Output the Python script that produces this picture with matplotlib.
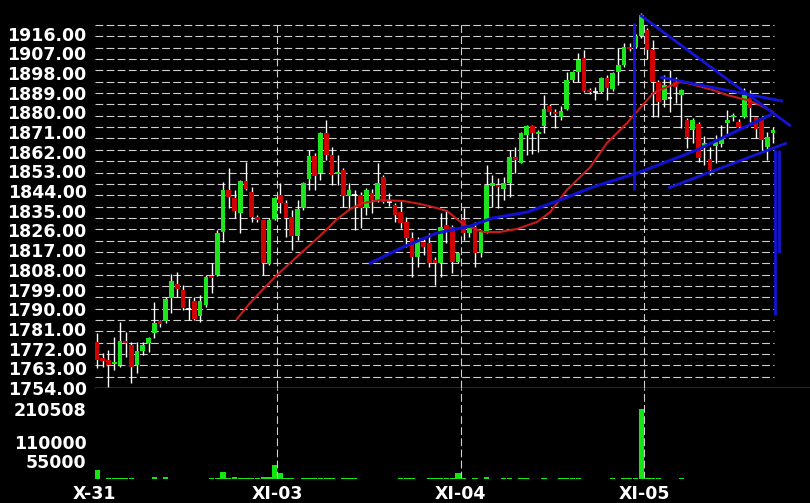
import numpy as np
import matplotlib
matplotlib.use("Agg")
import matplotlib.pyplot as plt

# ---------------- data ----------------
opens = [1775.2, 1767.6, 1766.8, 1765.0, 1764.5, 1775.5, 1773.7, 1764.5, 1771.1, 1774.7,
         1779.0, 1784.6, 1784.6, 1795.0, 1801.4, 1798.8, 1790.1, 1793.8, 1787.0, 1792.0,
         1804.9, 1805.6, 1825.2, 1844.5, 1840.7, 1833.8, 1848.6, 1843.7, 1832.3, 1830.8,
         1810.7, 1831.1, 1842.2, 1838.4, 1832.3, 1823.5, 1836.1, 1849.6, 1860.2, 1852.1,
         1870.4, 1860.5, 1852.0, 1853.6, 1841.7, 1842.0, 1842.2, 1836.1, 1843.0, 1839.9,
         1850.6, 1839.1, 1837.6, 1834.6, 1830.0, 1822.4, 1814.0, 1820.9, 1820.1, 1812.5,
         1811.0, 1828.5, 1827.7, 1811.7, 1830.8, 1825.0, 1827.7, 1815.8, 1825.4, 1846.3,
         1846.8, 1844.8, 1847.5, 1859.5, 1857.0, 1869.6, 1873.7, 1870.0, 1873.7, 1883.1,
         1880.1, 1878.1, 1881.6, 1894.8, 1898.6, 1904.7, 1890.2, 1889.5, 1889.4, 1895.5,
         1890.6, 1898.6, 1901.6, 1910.0, 1910.0, 1914.9, 1917.6, 1908.5, 1894.0, 1885.6,
         1886.4, 1894.0, 1888.0, 1876.5, 1871.9, 1874.6, 1864.3, 1858.5, 1864.6, 1865.5,
         1875.3, 1878.0, 1875.7, 1878.0, 1886.4, 1878.0, 1877.3, 1864.0, 1870.7]
highs = [1779.0, 1770.0, 1771.4, 1777.4, 1784.3, 1779.7, 1775.2, 1775.2, 1775.2, 1777.4,
         1793.4, 1785.1, 1795.7, 1806.0, 1807.2, 1801.0, 1795.0, 1795.7, 1796.5, 1805.6,
         1811.0, 1826.2, 1848.3, 1854.4, 1844.5, 1849.1, 1857.4, 1846.0, 1833.0, 1831.0,
         1831.5, 1841.4, 1847.5, 1839.9, 1835.3, 1839.9, 1848.3, 1862.8, 1861.3, 1871.1,
         1876.5, 1864.3, 1860.5, 1854.4, 1847.5, 1844.5, 1843.7, 1845.3, 1845.0, 1856.7,
         1851.3, 1843.0, 1838.4, 1839.9, 1832.3, 1825.4, 1823.1, 1822.0, 1824.7, 1814.0,
         1833.8, 1835.3, 1828.5, 1816.0, 1836.1, 1828.5, 1830.0, 1826.2, 1855.9, 1851.3,
         1849.8, 1850.6, 1862.8, 1864.3, 1871.1, 1874.2, 1874.2, 1872.0, 1887.9, 1883.9,
         1881.6, 1883.0, 1898.6, 1899.0, 1907.0, 1908.5, 1891.0, 1891.5, 1896.3, 1897.0,
         1898.6, 1909.2, 1911.5, 1911.5, 1915.7, 1925.2, 1918.4, 1913.0, 1894.8, 1897.0,
         1899.3, 1896.3, 1890.5, 1877.3, 1877.6, 1875.7, 1869.0, 1864.3, 1869.6, 1874.0,
         1881.0, 1879.5, 1877.0, 1891.0, 1890.2, 1878.5, 1878.0, 1871.1, 1873.4]
lows = [1763.0, 1763.7, 1754.6, 1762.2, 1763.7, 1768.3, 1756.1, 1760.7, 1769.1, 1770.6,
        1776.7, 1782.0, 1783.8, 1788.1, 1795.7, 1789.6, 1785.1, 1785.1, 1784.3, 1791.2,
        1797.6, 1805.0, 1820.6, 1836.1, 1831.6, 1824.7, 1844.5, 1830.0, 1830.0, 1805.6,
        1810.3, 1830.8, 1833.8, 1823.1, 1817.1, 1821.6, 1835.3, 1844.5, 1844.5, 1849.1,
        1858.2, 1846.8, 1846.8, 1836.9, 1835.3, 1826.2, 1827.0, 1833.0, 1834.0, 1839.1,
        1838.4, 1837.0, 1830.0, 1827.0, 1818.6, 1804.9, 1809.4, 1815.0, 1809.4, 1801.0,
        1804.9, 1820.1, 1806.4, 1811.0, 1821.6, 1823.0, 1809.4, 1814.0, 1824.7, 1836.9,
        1836.5, 1839.9, 1841.4, 1852.1, 1856.7, 1860.5, 1861.0, 1862.0, 1870.4, 1878.6,
        1873.0, 1876.5, 1881.0, 1894.0, 1894.0, 1889.4, 1888.5, 1885.7, 1888.7, 1885.6,
        1889.8, 1892.5, 1900.8, 1908.0, 1909.5, 1914.0, 1904.6, 1878.0, 1878.0, 1882.6,
        1880.3, 1884.1, 1872.7, 1863.5, 1866.0, 1857.4, 1856.0, 1851.3, 1857.0, 1864.0,
        1870.0, 1876.0, 1872.0, 1877.3, 1875.7, 1868.1, 1862.8, 1858.2, 1866.0]
closes = [1766.8, 1766.5, 1764.5, 1765.5, 1775.5, 1774.4, 1763.7, 1770.9, 1773.7, 1776.7,
          1783.6, 1783.1, 1794.5, 1802.9, 1799.2, 1790.7, 1790.1, 1785.5, 1793.8, 1804.9,
          1804.4, 1825.0, 1844.5, 1841.1, 1834.9, 1848.6, 1844.8, 1832.3, 1830.8, 1811.0,
          1830.8, 1840.7, 1838.4, 1831.6, 1823.5, 1835.7, 1847.5, 1860.2, 1850.9, 1870.4,
          1860.5, 1851.3, 1852.6, 1841.7, 1844.5, 1842.0, 1836.1, 1844.5, 1840.0, 1847.5,
          1839.1, 1839.1, 1833.1, 1829.3, 1822.4, 1814.0, 1820.9, 1818.6, 1811.0, 1811.0,
          1827.7, 1826.2, 1811.7, 1815.6, 1824.7, 1827.7, 1815.6, 1825.4, 1846.8, 1847.9,
          1846.0, 1847.5, 1859.5, 1858.0, 1870.4, 1873.7, 1870.4, 1870.8, 1881.6, 1880.1,
          1879.2, 1880.8, 1894.8, 1898.6, 1903.9, 1889.9, 1889.5, 1889.5, 1895.5, 1891.0,
          1897.8, 1901.6, 1910.0, 1908.8, 1914.9, 1924.5, 1908.5, 1894.0, 1884.8, 1892.5,
          1886.4, 1891.7, 1890.2, 1868.8, 1876.5, 1859.0, 1865.8, 1853.6, 1866.6, 1868.1,
          1876.5, 1878.8, 1873.4, 1888.0, 1881.8, 1872.2, 1867.3, 1868.8, 1871.9]
volumes = [26000, 0, 3000, 3000, 3000, 3000, 3000, 0, 0, 0,
           5000, 0, 5000, 0, 0, 0, 0, 0, 0, 0,
           3000, 3000, 20000, 3000, 5000, 3000, 3000, 3000, 3000, 6000,
           6000, 42000, 19500, 3000, 3000, 0, 3000, 3000, 3000, 3000,
           3000, 3000, 0, 3000, 3000, 3000, 0, 0, 0, 0,
           0, 0, 0, 3000, 3000, 3000, 0, 0, 3000, 3000,
           3000, 3000, 3000, 18000, 3000, 0, 3000, 0, 6000, 0,
           0, 3000, 3000, 0, 3000, 3000, 0, 0, 3000, 0,
           0, 3000, 4500, 3000, 3000, 0, 0, 0, 0, 0,
           3000, 0, 3000, 3000, 3000, 210508, 3000, 3000, 3000, 0,
           0, 0, 3000, 0, 0, 0, 0, 0, 0, 0,
           0, 0, 0, 0, 0, 0, 0, 0, 0]

# red moving average: bar index, value
ma_red_idx = [24.4, 26.7, 29.0, 31.6, 35.4, 38.9, 41.9, 44.2, 46.3, 49.4, 53.4, 56.4, 59.3,
              61.1, 62.8, 64.2, 67.4, 70.3, 73.3, 76.8, 79.1, 82.0, 86.1, 89.0, 92.5, 94.8,
              97.1, 99.5, 101.8, 103.5, 107.5, 110.0, 113.5, 115.7, 118.0]
ma_red_val = [1785.5, 1792.8, 1799.2, 1806.1, 1815.2, 1823.5, 1831.2, 1835.8, 1838.5, 1839.9,
              1839.5, 1838.1, 1836.3, 1834.9, 1831.2, 1828.5, 1825.3, 1825.3, 1826.7, 1829.9,
              1834.4, 1844.5, 1855.0, 1866.0, 1875.1, 1882.0, 1888.8, 1891.6, 1893.9, 1893.1,
              1890.2, 1887.9, 1885.6, 1883.3, 1880.1]
# blue moving average
ma_blue_idx = [47.7, 53.4, 59.3, 65.1, 69.1, 75.1, 80.8, 86.6, 94.8, 104.7, 117.5]
ma_blue_val = [1811.1, 1818.4, 1824.8, 1828.0, 1831.7, 1834.4, 1839.9, 1845.9, 1852.7, 1862.8, 1878.8]

# drawn trend lines: (idx0, price0, idx1, price1)
trend_lines = [
    (93.7, 1920.8, 93.7, 1844.5),
    (94.8, 1924.5, 121.1, 1873.7),
    (98.3, 1896.1, 119.7, 1885.1),
    (99.7, 1845.4, 120.4, 1866.0),
    (118.3, 1862.8, 118.3, 1787.4),
    (119.0, 1862.8, 119.0, 1815.7),
]

price_ticks = [1754 + 9 * k for k in range(19)]
vol_ticks = [55000, 110000, 210508]
day_labels = ["X-31", "XI-03", "XI-04", "XI-05"]
day_pos = [-0.5, 31.5, 63.5, 95.5]

# ---------------- figure ----------------
W, H = 810, 503
fig = plt.figure(figsize=(W / 100, H / 100), dpi=100, facecolor="black")
ax = fig.add_axes([95 / W, 115 / H, 715 / W, 380 / H])
axv = fig.add_axes([95 / W, 24 / H, 715 / W, 91 / H], sharex=ax)
for a in (ax, axv):
    a.set_facecolor("black")
    for s in a.spines.values():
        s.set_visible(False)

x = np.arange(len(opens))
o = np.array(opens); h = np.array(highs); l = np.array(lows); c = np.array(closes)

xmin, xmax = -0.35, 124.45
ymin, ymax = 1754, 1927.7
ax.set_xlim(xmin, xmax)
ax.set_ylim(ymin, ymax)

grid_color = "#cfcfcf"
grid_vals = np.linspace(1754, 1919.9, 33)[1:]
ax.hlines(grid_vals, xmin, 118.2, colors=grid_color, linewidth=0.8,
          linestyles=(0, (7, 3)), zorder=0)
ax.spines["bottom"].set_visible(True)
ax.spines["bottom"].set_color(grid_color)
ax.spines["bottom"].set_linewidth(1.0)

# day separators
ax.vlines(day_pos[1:], ymin, 1921, colors=grid_color, linewidth=0.8,
          linestyles=(0, (7, 3)), zorder=0)

# candles
ax.vlines(x, l, h, colors="white", linewidth=1.0, zorder=2)
green = "#1ee61e"
red = "#d00000"
up = c > o
dn = c < o
eq = c == o
body_w = 0.82
ax.bar(x[up], np.maximum(c[up] - o[up], 0.7), bottom=o[up], width=body_w,
       color=green, zorder=3, linewidth=0)
ax.bar(x[dn], np.maximum(o[dn] - c[dn], 0.7), bottom=c[dn], width=body_w,
       color=red, zorder=3, linewidth=0)
ax.hlines(c[eq], x[eq] - body_w / 2, x[eq] + body_w / 2, colors="white",
          linewidth=1.2, zorder=3)

# moving averages
ax.plot(ma_red_idx, ma_red_val, color="#c81a1a", linewidth=1.5, zorder=4)
ax.plot(ma_blue_idx, ma_blue_val, color="#1010d2", linewidth=2.2, zorder=4)

# trend lines
for x0, y0, x1, y1 in trend_lines:
    ax.plot([x0, x1], [y0, y1], color="#1414d8", linewidth=2.0, zorder=5,
            solid_capstyle="butt")

# price labels
ax.set_yticks(price_ticks)
ax.set_yticklabels([f"{v:.2f}" for v in price_ticks])
ax.tick_params(axis="y", length=0, pad=6, labelsize=12.5, labelcolor="white")
ax.tick_params(axis="x", length=0, labelbottom=False)
for t in ax.get_yticklabels():
    t.set_fontweight("bold")

# volume
vmax = 210508 * 91 / 70
axv.set_ylim(0, vmax)
axv.bar(x, volumes, width=0.92, color="#14e614", linewidth=0, zorder=3)
axv.vlines(day_pos[1:], 0, vmax, colors=grid_color, linewidth=0.8,
           linestyles=(0, (7, 3)), zorder=0)
axv.set_yticks(vol_ticks)
axv.set_yticklabels([str(v) for v in vol_ticks])
axv.tick_params(axis="y", length=0, pad=6, labelsize=12.5, labelcolor="white")
axv.tick_params(axis="x", length=0, labelbottom=False)
for t in axv.get_yticklabels():
    t.set_fontweight("bold")

trans = axv.get_xaxis_transform()
for p, lab in zip(day_pos, day_labels):
    axv.text(p, -0.07, lab, transform=trans, ha="center", va="top",
             color="white", fontsize=12.5, fontweight="bold", clip_on=False)

fig.savefig("out.png", dpi=100, facecolor="black")
